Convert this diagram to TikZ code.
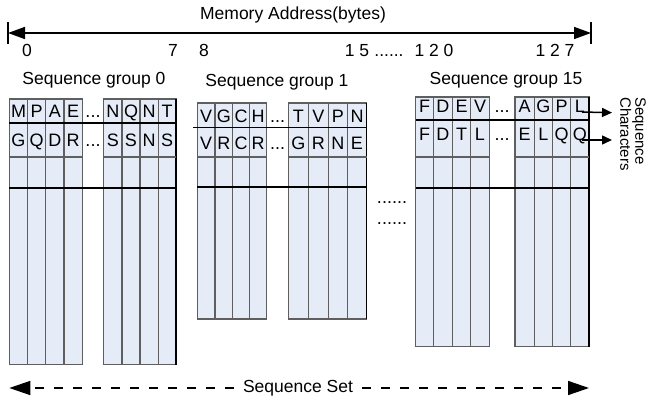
\documentclass[tikz,border=0pt]{standalone}
\usepackage{fontspec}
\setmainfont{Liberation Sans}
\usetikzlibrary{arrows.meta}
\definecolor{cellfill}{RGB}{230,236,247}
\definecolor{cellline}{RGB}{95,95,95}
\begin{document}
\begin{tikzpicture}[x=1pt,y=-1pt,
  ch/.style={font=\fontsize{18}{20}\selectfont, inner sep=0pt, anchor=base},
  lbl/.style={font=\fontsize{17.5}{21}\selectfont, inner sep=0pt},
  cell/.style={fill=cellfill, draw=cellline, line width=1.1pt},
  thinrow/.style={draw=cellline, line width=1.1pt},
  rowline/.style={draw=black, line width=1.4pt},
  edge/.style={draw=black, line width=1.3pt},
  axis/.style={draw=black, line width=1.6pt, {Triangle[length=17pt,width=12pt]}-{Triangle[length=17pt,width=12pt]}},
  tick/.style={draw=black, line width=1.6pt},
  setarrow/.style={draw=black, line width=1.5pt, dash pattern=on 9pt off 10pt, -{Triangle[length=21pt,width=14pt]}},
  scarrow/.style={draw=black, line width=1.5pt, -{Triangle[length=10pt,width=9pt]}}
]
\useasboundingbox (0,0) rectangle (646,407);

% ---------- memory address axis ----------
\node[lbl] (mem) at (293,15) {Memory Address(bytes)};
\coordinate (axL) at (8,33);
\coordinate (axR) at (591,33);
\draw[tick] (8,22) -- (8,44);
\draw[tick] (591,22) -- (591,44);
\draw[axis] (axL) -- (axR);
\node[lbl, anchor=base] (n0) at (27,56) {0};
\node[lbl, anchor=base] (n7) at (173,56) {7};
\node[lbl, anchor=base] (n8) at (204,56) {8};
\node[lbl, anchor=base] (n15) at (357,56) {1 5};
\node[lbl, anchor=base] (ndots) at (389,56) {......};
\node[lbl, anchor=base] (n120) at (434,56) {1 2 0};
\node[lbl, anchor=base] (n127) at (555,56) {1 2 7};

% ---------- group labels ----------
\node[lbl] (lg0) at (94,80) {Sequence group 0};
\node[lbl] (lg1) at (277,82) {Sequence group 1};
\node[lbl] (lg15) at (506,80) {Sequence group 15};

% ---------- group 0 ----------
\foreach \xa/\xb/\la/\lb [count=\i] in {9.3/27.7/M/G,27.7/45.7/P/Q,45.7/64/A/D,64/82.3/E/R}{
  \draw[cell] (\xa,99) rectangle (\xb,364.7);
  \node[ch] (g0l-\i-a) at ({(\xa+\xb)/2},117) {\la};
  \node[ch] (g0l-\i-b) at ({(\xa+\xb)/2},146.5) {\lb};
}
\foreach \xa/\xb/\la/\lb [count=\i] in {103.7/122/N/S,122/140/Q/S,140/158.3/N/N,158.3/176/T/S}{
  \draw[cell] (\xa,99) rectangle (\xb,364.7);
  \node[ch] (g0r-\i-a) at ({(\xa+\xb)/2},117) {\la};
  \node[ch] (g0r-\i-b) at ({(\xa+\xb)/2},146.5) {\lb};
}
\draw[edge] (176,99) -- (176,364.7);
\draw[thinrow] (9.3,157) -- (82.3,157);
\draw[thinrow] (103.7,157) -- (176,157);
\draw[rowline] (9.3,123) -- (176,123);
\draw[rowline] (9.3,188) -- (176,188);
\node[ch] (g0d-a) at (93,117) {...};
\node[ch] (g0d-b) at (93,146.5) {...};

% ---------- group 1 ----------
\foreach \xa/\xb/\la/\lb [count=\i] in {197.3/215/V/V,215/232.7/G/R,232.7/249.3/C/C,249.3/266.7/H/R}{
  \draw[cell] (\xa,103) rectangle (\xb,319);
  \node[ch] (g1l-\i-a) at ({(\xa+\xb)/2},122.5) {\la};
  \node[ch] (g1l-\i-b) at ({(\xa+\xb)/2},149.5) {\lb};
}
\foreach \xa/\xb/\la/\lb [count=\i] in {288.3/308.3/T/G,308.3/328.3/V/R,328.3/347.3/P/N,347.3/366.7/N/E}{
  \draw[cell] (\xa,103) rectangle (\xb,319);
  \node[ch] (g1r-\i-a) at ({(\xa+\xb)/2},122.5) {\la};
  \node[ch] (g1r-\i-b) at ({(\xa+\xb)/2},149.5) {\lb};
}
\draw[edge] (366.7,103) -- (366.7,319);
\draw[thinrow] (197.3,157) -- (266.7,157);
\draw[thinrow] (288.3,157) -- (366.7,157);
\draw[rowline] (193,127.3) -- (366.7,127.3);
\draw[rowline] (197.3,187) -- (366.7,187);
\node[ch] (g1d-a) at (277.5,122.5) {...};
\node[ch] (g1d-b) at (277.5,149.5) {...};

% ---------- middle dots ----------
\node[ch] (mdots1) at (392,203) {......};
\node[ch] (mdots2) at (392,224.5) {......};

% ---------- group 15 ----------
\foreach \xa/\xb/\la/\lb [count=\i] in {415.7/433.3/F/F,433.3/452.3/D/D,452.3/470.7/E/T,470.7/489.3/V/L}{
  \draw[cell] (\xa,97) rectangle (\xb,346.7);
  \node[ch] (g15l-\i-a) at ({(\xa+\xb)/2},112) {\la};
  \node[ch] (g15l-\i-b) at ({(\xa+\xb)/2},140) {\lb};
}
\foreach \xa/\xb/\la/\lb [count=\i] in {515/534.3/A/E,534.3/552.3/G/L,552.3/570.7/P/Q,570.7/589/L/Q}{
  \draw[cell] (\xa,97) rectangle (\xb,346.7);
  \node[ch] (g15r-\i-a) at ({(\xa+\xb)/2},112) {\la};
  \node[ch] (g15r-\i-b) at ({(\xa+\xb)/2},140) {\lb};
}
\draw[edge] (589,97) -- (589,346.7);
\draw[thinrow] (415.7,157) -- (489.3,157);
\draw[thinrow] (515,157) -- (589,157);
\draw[rowline] (415.7,120) -- (589,120);
\draw[rowline] (415.7,188) -- (589,188);
\node[ch] (g15d-a) at (502,112) {...};
\node[ch] (g15d-b) at (502,140) {...};

% ---------- sequence characters ----------
\node[font=\fontsize{15}{15}\selectfont, inner sep=0pt, rotate=-90, align=left, anchor=north west] (sc) at (646,97) {Sequence\\Characters};
\coordinate (sc1) at (612,112.7);
\coordinate (sc2) at (612,140);
\draw[scarrow] ([xshift=2pt]g15r-4-a.base) -- (sc1);
\draw[scarrow] ([xshift=2pt]g15r-4-b.base) -- (sc2);

% ---------- sequence set ----------
\node[lbl, inner sep=9pt] (ss) at (298,388) {Sequence Set};
\coordinate (ssL) at (9.3,388);
\coordinate (ssR) at (589,388);
\draw[setarrow] (ss.west) -- (ssL);
\draw[setarrow] (ss.east) -- (ssR);
\end{tikzpicture}
\end{document}
